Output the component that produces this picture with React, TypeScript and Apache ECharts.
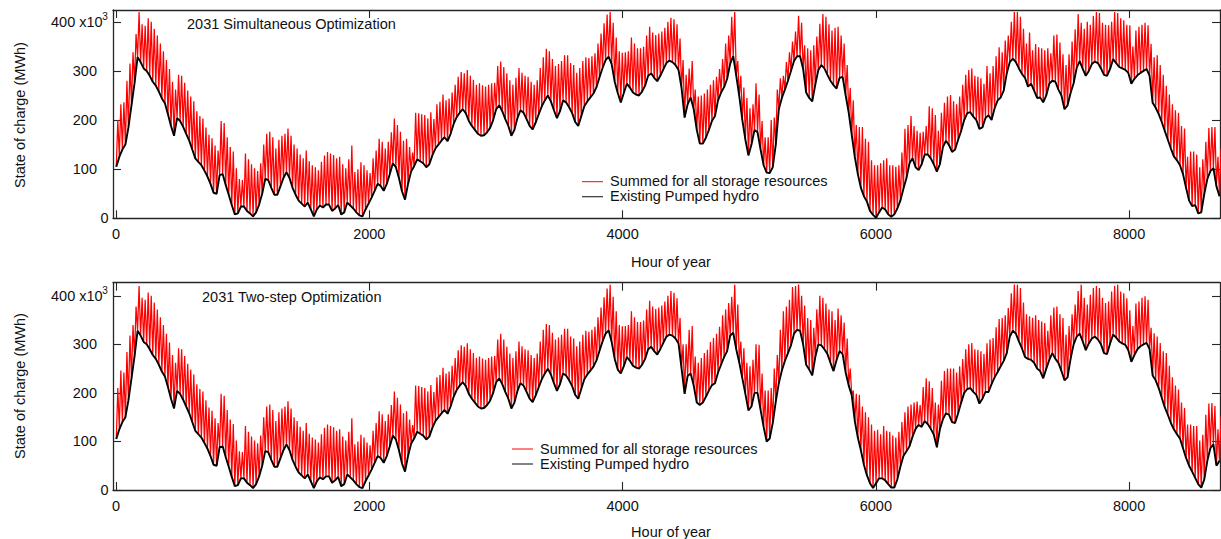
import React, { useEffect, useRef } from "react";
import * as echarts from "echarts";

// ---- tick labels / texts ----
const xTickHours = [0, 2000, 4000, 6000, 8000];
const yTickValues = [0, 100, 200, 300, 400];
const yLabelValues = [100, 200, 300];
const panelTitles = ["2031 Simultaneous Optimization", "2031 Two-step Optimization"];
const legendNames = ["Summed for all storage resources", "Existing Pumped hydro"];

// ---- daily values (thousand MWh), one per day of year ----
// Panel 1: existing pumped hydro (daily low) and summed storage (daily peak)
const simultaneousPumpedHydro = [
  105,125,140,150,185,230,275,328,318,305,
  300,290,278,270,258,244,234,212,188,168,
  204,198,186,172,158,140,122,115,108,97,
  85,70,52,50,88,90,68,48,27,8,
  10,24,24,15,10,4,12,28,50,80,
  78,62,48,48,65,82,94,82,62,48,
  36,30,24,32,18,4,18,26,22,28,
  28,15,20,27,8,12,32,26,20,12,
  6,4,18,30,42,56,70,66,56,70,
  90,112,104,82,55,38,70,95,106,120,
  116,112,104,110,128,142,150,158,165,157,
  172,192,206,215,222,214,198,188,180,172,
  168,169,175,184,200,222,230,218,202,188,
  168,180,204,220,215,202,188,181,195,212,
  228,240,250,238,220,204,218,240,236,226,
  214,196,188,208,228,238,246,254,267,287,
  306,322,329,314,278,255,236,255,274,266,
  256,252,250,258,270,290,295,286,279,290,
  303,316,321,318,312,302,265,205,232,246,
  222,180,152,152,164,180,198,208,240,256,
  267,284,315,330,290,248,200,160,128,150,
  180,175,140,108,93,92,104,150,222,245,
  262,280,300,320,330,330,304,256,245,238,
  272,302,312,305,292,280,271,264,286,288,
  250,215,170,125,90,62,45,34,15,7,
  1,12,22,18,8,3,8,20,36,60,
  82,112,122,104,98,110,130,130,122,110,
  95,110,145,158,149,135,140,160,178,200,
  214,216,207,200,182,185,204,210,200,224,
  240,246,260,295,318,325,318,305,294,286,
  268,274,260,245,246,236,250,274,280,278,
  262,250,222,230,255,275,306,320,304,290,
  300,314,319,316,305,292,290,304,324,316,
  308,305,302,296,274,284,291,296,300,304,
  290,235,225,212,196,178,160,142,126,118,
  108,90,62,36,25,27,10,12,50,80,
  96,102,65,45,
];
const simultaneousSummedPeak = [
  200,232,236,280,315,338,375,420,395,392,
  407,400,386,372,356,340,322,304,278,262,
  292,290,276,260,248,238,218,208,203,185,
  170,163,148,138,198,194,165,145,136,102,
  80,78,132,120,110,102,96,112,150,172,
  176,165,142,160,168,172,183,168,150,142,
  130,122,138,116,108,104,98,115,128,135,
  132,129,122,125,110,102,120,148,94,100,
  114,108,98,92,122,138,162,156,142,156,
  175,203,190,176,158,162,145,134,215,214,
  212,210,203,216,202,232,237,252,240,244,
  256,272,288,298,295,302,290,282,272,275,
  271,268,272,275,276,310,319,308,295,281,
  272,286,306,296,290,288,278,272,281,306,
  328,345,340,324,310,314,320,332,332,316,
  312,296,306,320,328,326,330,336,356,376,
  397,415,420,398,368,340,337,338,340,368,
  356,346,346,349,372,390,378,373,376,380,
  388,400,408,405,395,366,322,292,305,320,
  262,248,250,254,262,272,281,288,304,324,
  356,372,410,420,320,290,266,245,224,232,
  275,252,198,165,165,200,205,262,285,290,
  318,338,360,380,412,398,352,346,342,352,
  370,396,416,410,395,382,388,390,372,356,
  312,265,240,190,186,186,162,156,118,108,
  108,112,118,122,108,108,105,108,134,182,
  190,208,188,178,174,176,188,228,224,210,
  178,215,235,248,251,238,232,248,272,292,
  302,305,290,288,285,274,310,295,310,330,
  348,338,362,372,400,420,420,410,386,356,
  378,342,355,348,346,342,346,336,372,374,
  358,334,312,334,360,385,416,398,386,400,
  394,412,420,418,398,394,393,400,420,418,
  407,403,394,393,350,382,390,394,398,393,
  355,328,332,312,292,270,252,232,220,215,
  188,183,125,136,136,130,104,120,156,184,
  186,186,125,142,
];
// Panel 2
const twoStepPumpedHydro = [
  105,125,140,150,185,230,275,328,318,305,
  300,290,278,270,258,244,234,212,188,168,
  204,198,186,172,158,140,122,115,108,97,
  85,70,52,50,88,90,68,48,27,8,
  10,24,24,15,10,4,12,28,50,80,
  78,62,48,48,65,82,94,82,62,48,
  36,30,24,32,18,4,18,26,22,28,
  28,15,20,27,8,12,32,26,20,12,
  6,4,18,30,42,56,70,66,56,70,
  90,112,104,82,55,38,70,95,106,120,
  116,112,104,110,128,142,150,158,165,157,
  172,192,206,215,222,214,198,188,180,172,
  168,169,175,184,200,222,230,218,202,188,
  168,180,204,220,215,202,188,181,195,212,
  228,240,250,238,220,204,218,240,236,226,
  214,196,188,208,228,238,246,254,267,287,
  306,322,329,305,270,248,240,255,274,266,
  256,252,250,258,270,290,295,286,279,290,
  303,316,320,318,312,302,250,198,235,240,
  215,180,175,180,192,205,216,220,242,258,
  274,286,318,324,290,262,230,198,164,172,
  200,200,165,130,100,106,138,182,220,246,
  266,282,298,322,330,328,300,258,248,236,
  274,300,298,290,280,262,245,268,286,280,
  242,215,195,142,108,82,52,30,14,4,
  14,24,24,20,12,5,5,22,48,70,
  80,90,110,126,134,130,142,136,126,114,
  88,125,146,158,155,140,138,158,180,200,
  208,210,202,196,178,188,202,202,218,232,
  243,255,266,282,316,328,322,306,292,274,
  270,268,262,250,245,230,250,268,282,270,
  262,245,226,232,270,300,316,322,306,288,
  302,312,316,310,300,282,280,302,320,314,
  306,302,299,288,264,278,290,296,300,303,
  290,236,226,210,190,170,155,138,125,115,
  106,86,66,50,38,25,12,5,22,60,
  86,94,50,60,
];
const twoStepSummedPeak = [
  210,246,242,284,318,340,378,420,396,392,
  407,400,386,372,356,340,322,304,278,262,
  292,290,276,260,248,238,218,208,203,185,
  170,163,148,138,198,194,165,145,136,102,
  80,78,132,120,110,102,96,112,150,172,
  176,165,142,160,168,172,183,168,150,142,
  130,122,138,116,108,104,98,115,128,135,
  132,129,122,125,110,102,120,148,94,100,
  114,108,98,92,122,138,162,156,142,156,
  175,203,190,176,158,162,145,134,215,214,
  212,210,203,216,202,232,237,252,240,244,
  256,272,288,298,295,302,290,282,272,275,
  271,268,272,275,276,310,322,310,295,281,
  272,286,306,296,290,288,278,272,281,306,
  330,342,340,324,310,314,320,332,332,316,
  312,296,306,320,328,326,330,336,356,376,
  397,415,423,398,368,340,337,338,340,368,
  356,346,346,349,372,390,378,373,376,380,
  388,400,410,406,395,354,300,300,330,338,
  275,262,272,282,289,305,313,322,336,360,
  372,385,398,423,382,306,292,262,255,268,
  300,299,240,205,205,210,250,278,330,368,
  378,392,418,420,423,400,380,354,350,334,
  372,400,396,384,372,368,350,374,360,345,
  312,250,205,198,196,172,160,150,135,122,
  124,115,132,122,120,112,108,120,140,160,
  172,176,180,182,175,212,230,224,210,180,
  176,225,245,250,250,250,242,255,270,290,
  300,303,290,289,286,280,302,310,313,335,
  352,354,360,375,405,423,423,416,386,362,
  358,355,360,350,347,344,328,360,376,378,
  362,354,320,338,362,382,410,423,396,382,
  402,416,420,416,396,385,388,409,420,423,
  409,405,395,370,338,384,388,396,399,392,
  334,323,316,303,286,282,256,232,215,207,
  180,169,135,135,132,132,102,114,155,178,
  179,173,125,152,
];

const FONT = '"Liberation Sans", Arial, Helvetica, sans-serif';
const TEXT_COLOR = "#111111";
const FS = 14.5;

function pumpedPoints(daily: number[]) {
  return daily.map((v, d) => [d * 24 + 2, v]);
}
function summedPoints(daily: number[], peaks: number[]) {
  const pts: number[][] = [];
  daily.forEach((v, d) => {
    pts.push([d * 24 + 2, v]);
    pts.push([d * 24 + 14, peaks[d]]);
  });
  return pts;
}

const panels = [
  {
    top: 10, height: 208.3, yMax: 424,
    title: panelTitles[0], titleX: 187, titleY: 24,
    legX: 582, legY: 181.7, hourY: 262, yNameY: 115,
    pumped: simultaneousPumpedHydro, peaks: simultaneousSummedPeak,
  },
  {
    top: 282.7, height: 207.3, yMax: 427,
    title: panelTitles[1], titleX: 202, titleY: 296.5,
    legX: 512, legY: 449, hourY: 531.5, yNameY: 386,
    pumped: twoStepPumpedHydro, peaks: twoStepSummedPeak,
  },
];

const X_MIN = -24;
const X_MAX = 8718;

function txt(x: number, y: number, text: string, align: string, extra: any = {}) {
  return {
    type: "text",
    x, y, z: 100,
    ...extra,
    style: {
      text,
      fontSize: extra.fontSize || FS,
      fontFamily: FONT,
      fill: TEXT_COLOR,
      align,
      verticalAlign: "middle",
      textAlign: align,
      textVerticalAlign: "middle",
    },
  };
}

export default function App() {
  const ref = useRef<HTMLDivElement>(null);
  useEffect(() => {
    if (!ref.current) return;
    const chart = echarts.init(ref.current, undefined, { renderer: "svg" });
    const lineStyle = { color: "#262626", width: 1.3 };
    const tickStyle = { color: "#262626", width: 1.1 };
    const plain = (v: number) => String(v);

    const xAxis: any[] = [];
    const yAxis: any[] = [];
    const series: any[] = [];
    const graphic: any[] = [];

    panels.forEach((p, i) => {
      xAxis.push({
        type: "value", gridIndex: i, min: X_MIN, max: X_MAX, position: "bottom",
        axisLine: { show: true, onZero: false, lineStyle },
        axisTick: { show: true, inside: true, length: 8, customValues: xTickHours, lineStyle: tickStyle },
        axisLabel: { show: true, customValues: xTickHours, formatter: plain, margin: 8, fontSize: FS, fontFamily: FONT, color: TEXT_COLOR },
        splitLine: { show: false },
      });
      xAxis.push({
        type: "value", gridIndex: i, min: X_MIN, max: X_MAX, position: "top",
        axisLine: { show: true, onZero: false, lineStyle },
        axisTick: { show: true, inside: true, length: 8, customValues: xTickHours, lineStyle: tickStyle },
        axisLabel: { show: false },
        splitLine: { show: false },
      });
      yAxis.push({
        type: "value", gridIndex: i, min: 0, max: p.yMax, position: "left",
        axisLine: { show: true, onZero: false, lineStyle },
        axisTick: { show: true, inside: true, length: 8, customValues: yTickValues, lineStyle: tickStyle },
        axisLabel: { show: true, customValues: yLabelValues, formatter: plain, margin: 16, fontSize: FS, fontFamily: FONT, color: TEXT_COLOR },
        splitLine: { show: false },
      });
      yAxis.push({
        type: "value", gridIndex: i, min: 0, max: p.yMax, position: "right",
        axisLine: { show: true, onZero: false, lineStyle },
        axisTick: { show: true, inside: true, length: 8, customValues: yTickValues, lineStyle: tickStyle },
        axisLabel: { show: false },
        splitLine: { show: false },
      });
      series.push({
        name: legendNames[0], type: "line", xAxisIndex: i * 2, yAxisIndex: i * 2,
        data: summedPoints(p.pumped, p.peaks), symbol: "none", showSymbol: false,
        lineStyle: { color: "#ff0000", width: 1.25 }, z: 2, silent: true,
      });
      series.push({
        name: legendNames[1], type: "line", xAxisIndex: i * 2, yAxisIndex: i * 2,
        data: pumpedPoints(p.pumped), symbol: "none", showSymbol: false,
        lineStyle: { color: "#000000", width: 1.9 }, z: 3, silent: true,
      });

      const yPix = (v: number) => p.top + p.height * (1 - v / p.yMax);
      graphic.push(txt(p.titleX, p.titleY, p.title, "left"));
      graphic.push({
        type: "line", z: 100,
        shape: { x1: p.legX, y1: p.legY, x2: p.legX + 21, y2: p.legY },
        style: { stroke: "#ff0000", lineWidth: 1 },
      });
      graphic.push(txt(p.legX + 28, p.legY - 0.5, legendNames[0], "left"));
      graphic.push({
        type: "line", z: 100,
        shape: { x1: p.legX, y1: p.legY + 15, x2: p.legX + 21, y2: p.legY + 15 },
        style: { stroke: "#333333", lineWidth: 1.2 },
      });
      graphic.push(txt(p.legX + 28, p.legY + 14.5, legendNames[1], "left"));
      graphic.push(txt(671, p.hourY, "Hour of year", "center"));
      graphic.push(txt(20, p.yNameY, "State of charge (MWh)", "center", { rotation: Math.PI / 2 }));
      graphic.push(txt(51, yPix(400), "400 x10", "left"));
      graphic.push(txt(102.3, yPix(400) - 5, "3", "left", { fontSize: 10 }));
      graphic.push(txt(108.5, yPix(0), "0", "right"));
    });

    chart.setOption({
      animation: false,
      backgroundColor: "#ffffff",
      grid: panels.map((p) => ({ left: 113, right: 1, top: p.top, height: p.height, containLabel: false })),
      xAxis,
      yAxis,
      series,
      graphic,
    });
    return () => chart.dispose();
  }, []);

  return (
    <div
      ref={ref}
      style={{ position: "fixed", left: 0, top: 0, width: 1221, height: 539, background: "#fff" }}
    />
  );
}
